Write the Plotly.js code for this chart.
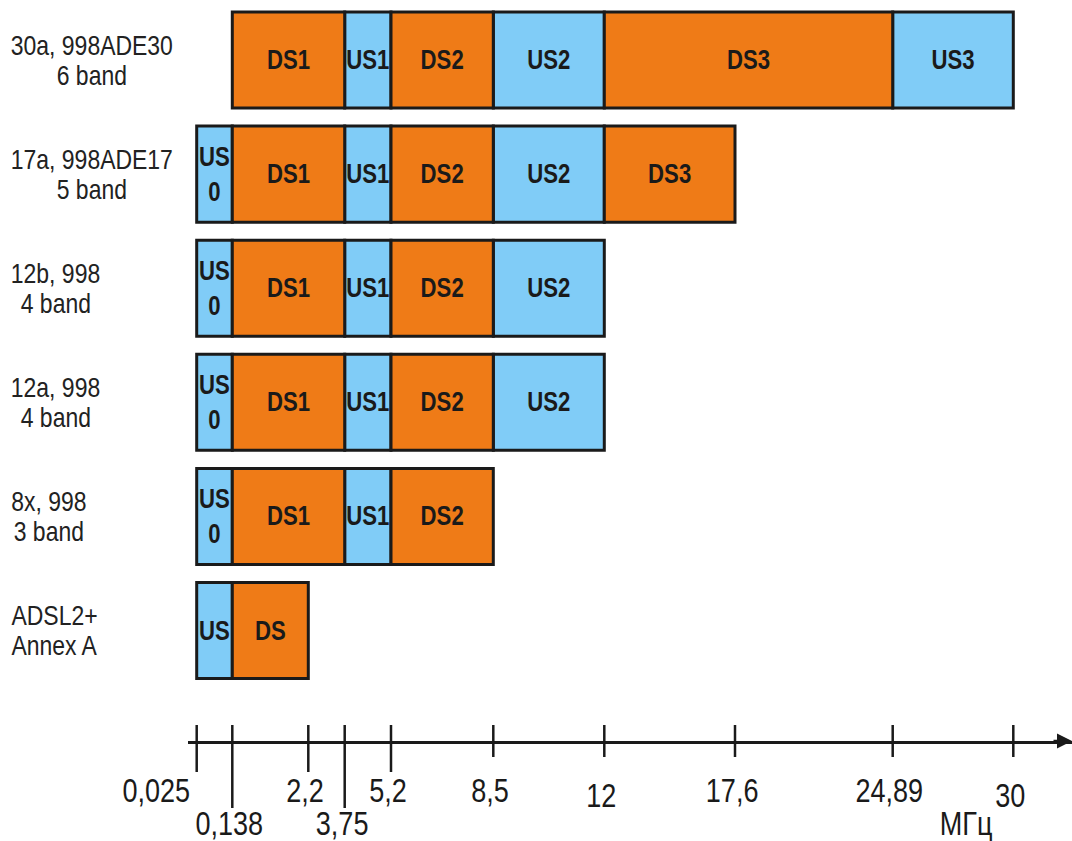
<!DOCTYPE html>
<html>
<head>
<meta charset="utf-8">
<script src="https://cdn.plot.ly/plotly-3.0.1.min.js"></script>
<style>html,body{margin:0;padding:0;background:#fff;}#chart{width:1072px;height:841px;}</style>
</head>
<body>
<div id="chart"></div>
<script>
// ---------- data ----------
const rowNames = ['ADSL2+', '8x, 998', '12a, 998', '12b, 998', '17a, 998ADE17', '30a, 998ADE30'];
const rowSubs  = ['Annex A', '3 band', '4 band', '4 band', '5 band', '6 band'];

const bandRow   = [0, 0,
                   1, 1, 1, 1,
                   2, 2, 2, 2, 2,
                   3, 3, 3, 3, 3,
                   4, 4, 4, 4, 4, 4,
                   5, 5, 5, 5, 5, 5];
const bandStart = [0.025, 0.138,
                   0.025, 0.138, 3.75, 5.2,
                   0.025, 0.138, 3.75, 5.2, 8.5,
                   0.025, 0.138, 3.75, 5.2, 8.5,
                   0.025, 0.138, 3.75, 5.2, 8.5, 12,
                   0.138, 3.75, 5.2, 8.5, 12, 24.89];
const bandEnd   = [0.138, 2.2,
                   0.138, 3.75, 5.2, 8.5,
                   0.138, 3.75, 5.2, 8.5, 12,
                   0.138, 3.75, 5.2, 8.5, 12,
                   0.138, 3.75, 5.2, 8.5, 12, 17.6,
                   3.75, 5.2, 8.5, 12, 24.89, 30];
const bandLabel = ['US', 'DS',
                   'US<br>0', 'DS1', 'US1', 'DS2',
                   'US<br>0', 'DS1', 'US1', 'DS2', 'US2',
                   'US<br>0', 'DS1', 'US1', 'DS2', 'US2',
                   'US<br>0', 'DS1', 'US1', 'DS2', 'US2', 'DS3',
                   'DS1', 'US1', 'DS2', 'US2', 'DS3', 'US3'];

const tickFreqs  = [0.025, 0.138, 2.2, 3.75, 5.2, 8.5, 12, 17.6, 24.89, 30];
const tickLabels = ['0,025', '0,138', '2,2', '3,75', '5,2', '8,5', '12', '17,6', '24,89', '30'];
const unitLabel  = 'МГц';

// ---------- schematic (non-uniform) frequency scale of the diagram ----------
const scaleFreqs = [0.025, 0.138, 2.2, 3.75, 5.2, 8.5, 12, 17.6, 24.89, 30];
const scaleUnits = [8.7, 44.3, 120.3, 156.7, 203, 305.3, 416.3, 547, 704.7, 825.3];
const axisMax = 884;
function sx(f) {
  for (let i = 0; i < scaleFreqs.length - 1; i++) {
    if (f >= scaleFreqs[i] && f <= scaleFreqs[i + 1]) {
      const t = (f - scaleFreqs[i]) / (scaleFreqs[i + 1] - scaleFreqs[i]);
      return scaleUnits[i] + t * (scaleUnits[i + 1] - scaleUnits[i]);
    }
  }
  return f < scaleFreqs[0] ? scaleUnits[0] : scaleUnits[scaleUnits.length - 1];
}

// ---------- styling ----------
const FONT = '"Liberation Sans", Arial, sans-serif';
const NARROW = 0.82;           // the diagram uses a condensed face
const INK = '#1a1a1a';
const colUS = '#80CCF7';
const colDS = '#EF7B17';

function bandTrace(prefix, color) {
  const idx = bandLabel.map((l, i) => i).filter(i => bandLabel[i].startsWith(prefix));
  return {
    type: 'bar', orientation: 'h',
    y: idx.map(i => bandRow[i]),
    base: idx.map(i => sx(bandStart[i])),
    x: idx.map(i => sx(bandEnd[i]) - sx(bandStart[i])),
    width: 0.842,
    text: idx.map(i => bandLabel[i]),
    textposition: 'inside', insidetextanchor: 'middle', textangle: 0,
    constraintext: 'none',
    insidetextfont: { family: FONT, size: 27, color: INK, weight: 'bold' },
    marker: { color: color, line: { color: INK, width: 3 } },
    hoverinfo: 'skip', cliponaxis: false
  };
}

// row labels: block at the left margin, lines centred in the block (ADSL row left-aligned)
const ctx = document.createElement('canvas').getContext('2d');
ctx.font = '28px "Liberation Sans", Arial, sans-serif';
const annotations = [];
const labelLeft = 11;
const leftAlignedRows = [0];
rowNames.forEach((name, r) => {
  const blockW = NARROW * Math.max(ctx.measureText(name).width, ctx.measureText(rowSubs[r]).width);
  const leftAl = leftAlignedRows.includes(r);
  [[name, 15], [rowSubs[r], -15]].forEach(([txt, dy]) => {
    const lineW = NARROW * ctx.measureText(txt).width;
    const cxPx = leftAl ? labelLeft + lineW / 2 : labelLeft + blockW / 2;
    annotations.push({
      text: txt, xref: 'paper', yref: 'y', x: (cxPx - 188) / axisMax, y: r, yshift: dy,
      xanchor: 'center', yanchor: 'middle', showarrow: false,
      font: { family: FONT, size: 28, color: '#222' }
    });
  });
});

// tick marks and labels
const tickLen = { '0,025': 31, '0,138': 67, '2,2': 31, '3,75': 67, '5,2': 31 };
const lowerRow = ['0,138', '3,75'];
const labelXShift = { '0,025': -40 };
const labelYShift = { '12': -5, '30': -5 };
const shapes = [];
tickFreqs.forEach((f, i) => {
  const lab = tickLabels[i];
  shapes.push({
    type: 'line', xref: 'x', x0: sx(f), x1: sx(f),
    yref: 'paper', ysizemode: 'pixel', yanchor: 0, y0: 16, y1: -(tickLen[lab] || 16),
    line: { color: INK, width: 2.5 }
  });
  annotations.push({
    text: lab, xref: 'x', yref: 'paper', x: sx(f), y: 0,
    xshift: (labelXShift[lab] !== undefined ? labelXShift[lab] : -3),
    yshift: (lowerRow.includes(lab) ? -82 : -49) + (labelYShift[lab] || 0),
    xanchor: 'center', yanchor: 'middle', showarrow: false,
    font: { family: FONT, size: 33, color: INK }
  });
});
annotations.push({
  text: unitLabel, xref: 'paper', yref: 'paper', x: (966 - 188) / axisMax, y: 0, yshift: -82,
  xanchor: 'center', yanchor: 'middle', showarrow: false,
  font: { family: FONT, size: 33, color: INK }
});
// arrow head of the frequency axis
annotations.push({
  text: '', xref: 'x', yref: 'paper', x: axisMax, y: 0, ax: -20, ay: 0,
  showarrow: true, arrowhead: 2, arrowsize: 1.2, arrowwidth: 2.5, arrowcolor: INK, standoff: 0
});

const layout = {
  width: 1072, height: 841,
  margin: { l: 188, r: 0, t: 9, b: 100, pad: 0 },
  paper_bgcolor: '#fff', plot_bgcolor: '#fff',
  showlegend: false, barmode: 'overlay',
  xaxis: { range: [0, axisMax], showgrid: false, zeroline: false, showticklabels: false,
           ticks: '', showline: true, linecolor: INK, linewidth: 2.5, fixedrange: true },
  yaxis: { range: [-0.968, 5.447], visible: false, showgrid: false, zeroline: false, fixedrange: true },
  shapes: shapes,
  annotations: annotations
};

Plotly.newPlot('chart', [bandTrace('US', colUS), bandTrace('DS', colDS)], layout,
  { displayModeBar: false, staticPlot: true }).then(gd => {
  // condense the glyphs horizontally (narrow typeface look), keeping them real text
  gd.querySelectorAll('text.annotation-text, text.bartext').forEach(t => {
    const lines = t.querySelectorAll('tspan.line');
    const targets = lines.length ? Array.from(lines) : [t];
    targets.forEach(el => {
      const L = el.getComputedTextLength();
      if (L > 0) {
        el.setAttribute('textLength', (L * NARROW).toFixed(1));
        el.setAttribute('lengthAdjust', 'spacingAndGlyphs');
      }
    });
  });
});
</script>
</body>
</html>
